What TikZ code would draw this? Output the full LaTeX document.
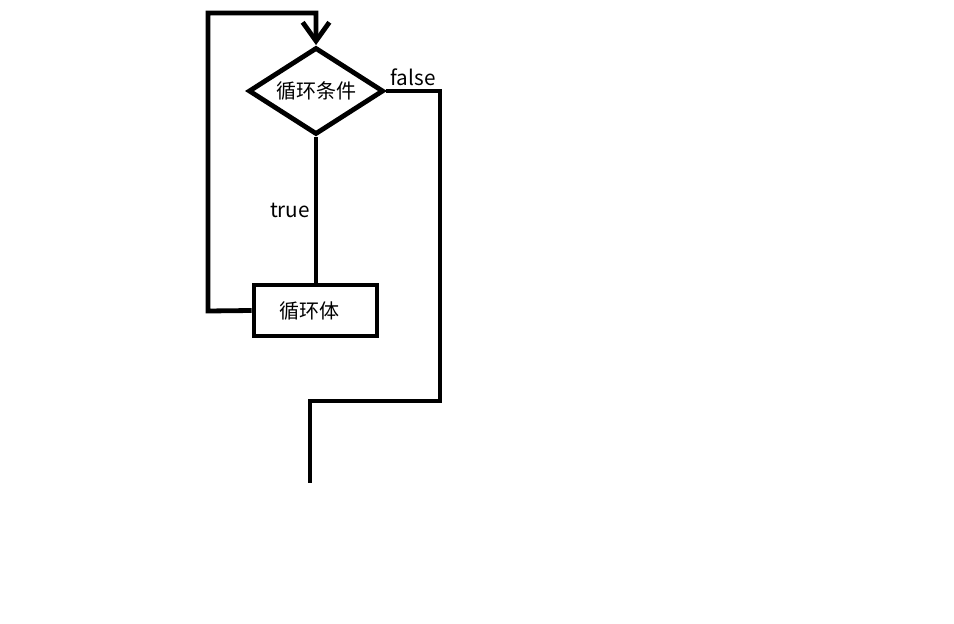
\documentclass[tikz,border=0pt]{standalone}
\usepackage{fontspec}
\setmainfont{Noto Sans CJK SC}
\usetikzlibrary{shapes.geometric,arrows.meta}
\begin{document}
\begin{tikzpicture}[x=0.75pt,y=-0.75pt,
  ln/.style={line width=3.6pt, line join=miter},
  decision/.style={diamond, aspect=1.55, draw, line width=3.6pt, minimum width=135*0.75pt, minimum height=87*0.75pt, inner sep=0pt, font=\fontsize{15}{17}\selectfont},
  process/.style={rectangle, draw, line width=3.6pt, minimum width=123*0.75pt, minimum height=51*0.75pt, inner sep=0pt, font=\fontsize{15}{17}\selectfont},
  lbl/.style={font=\fontsize{15.5}{17}\selectfont, inner sep=0pt}]
\useasboundingbox (0,0) rectangle (954,624);
\node[decision] (cond) at (316,91) {循环条件};
\node[process] (body) at (315.5,310.5) {\hspace*{-9pt}循环体};
\coordinate (la) at (208,311);
\coordinate (lb) at (208,13);
\coordinate (lc) at (316,13);
\coordinate (fa) at (440,91);
\coordinate (fb) at (440,401);
\coordinate (fc) at (310,401);
\coordinate (fd) at (310,483);
\draw[ln,-{Straight Barb[length=14pt,width=20pt]}] (body.west) -- (la) -- (lb) -- (lc) -- (cond.north);
\draw[ln] (cond.south) -- (cond.south |- body.north);
\draw[ln] (cond.east) -- (fa) -- (fb) -- (fc) -- (fd);
\node[lbl] (t) at (290,210) {true};
\node[lbl] (f) at (413,77) {false};
\end{tikzpicture}
\end{document}
